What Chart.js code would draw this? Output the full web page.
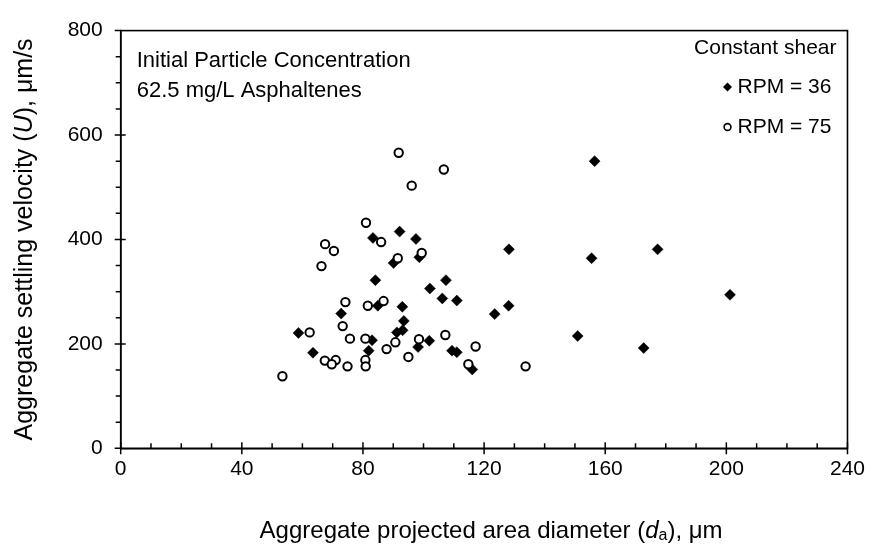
<!DOCTYPE html>
<html>
<head>
<meta charset="utf-8">
<script src="https://cdn.jsdelivr.net/npm/chart.js@4.4.1/dist/chart.umd.min.js"></script>
<style>
  html, body { margin: 0; padding: 0; background: #fff; }
  #wrap { width: 873px; height: 552px; position: relative; }
</style>
</head>
<body>
<div id="wrap"><canvas id="c"></canvas></div>
<script>
// ---- Data ----
const rpm36X = [156.5,128.2,177.3,155.5,128.1,150.9,172.7,201.2,92.1,83.3,97.5,90.1,98.6,84.1,107.4,102.1,106.2,111.0,84.9,93.0,72.8,93.5,123.5,58.7,91.2,93.1,83.0,101.9,98.2,81.9,63.5,109.4,111.0,116.1];
const rpm36Y = [550,381,381,364,273,215,192,294,415,403,401,355,366,322,322,306,287,283,273,271,258,244,257,221,222,226,207,206,194,187,183,187,184,151];
const rpm75X = [91.8,106.7,96.1,81.0,86.0,67.5,70.4,66.3,91.5,99.4,74.2,81.6,86.8,73.3,62.4,75.7,80.8,90.7,98.5,107.2,117.2,87.8,67.4,71.0,69.7,74.9,80.8,80.9,95.0,114.8,133.7,53.4];
const rpm75Y = [566,534,503,432,395,391,378,349,364,374,280,273,282,234,222,210,210,203,209,217,195,190,168,169,161,157,169,157,175,161,157,138];
const xTicks = [0,40,80,120,160,200,240];
const yTicks = [0,200,400,600,800];
const seriesLabels = ['RPM = 36','RPM = 75'];
const legendTitle = 'Constant shear';
const noteLines = ['Initial Particle Concentration','62.5 mg/L Asphaltenes'];

const FONT = '"Liberation Sans", Arial, sans-serif';

function toPts(xs, ys){ return xs.map((x,i)=>({x:x, y:ys[i]})); }

const decorPlugin = {
  id: 'decor',
  afterDraw(chart){
    const ctx = chart.ctx;
    const a = chart.chartArea;
    const xs = chart.scales.x, ys = chart.scales.y;
    ctx.save();
    ctx.strokeStyle = '#000';
    ctx.lineWidth = 1.6;
    ctx.strokeRect(a.left, a.top, a.right - a.left, a.bottom - a.top);
    ctx.lineWidth = 1.5;
    ctx.beginPath();
    for (let v = 0; v <= 240; v += 10) {
      const px = xs.getPixelForValue(v);
      if (v % 40 === 0) { ctx.moveTo(px, a.bottom - 6); ctx.lineTo(px, a.bottom + 6); }
      else { ctx.moveTo(px, a.bottom - 5); ctx.lineTo(px, a.bottom); }
    }
    for (let v = 0; v <= 800; v += 50) {
      const py = ys.getPixelForValue(v);
      if (v % 200 === 0) { ctx.moveTo(a.left - 6, py); ctx.lineTo(a.left + (v===0||v===800?0:5), py); }
      else { ctx.moveTo(a.left - 5, py); ctx.lineTo(a.left, py); }
    }
    ctx.stroke();

    // notes
    ctx.fillStyle = '#000';
    ctx.textBaseline = 'middle';
    ctx.textAlign = 'left';
    ctx.font = '22px ' + FONT;
    ctx.fillText(noteLines[0], a.left + 16, 61);
    ctx.fillText(noteLines[1], a.left + 16, 91);

    // legend
    ctx.textAlign = 'right';
    ctx.font = '21px ' + FONT;
    ctx.fillText(legendTitle, a.right - 11, 48);
    const tx = a.right - 16;
    const w1 = ctx.measureText(seriesLabels[0]).width;
    ctx.fillText(seriesLabels[0], tx, 87);
    ctx.fillText(seriesLabels[1], tx, 127);
    const mx = tx - w1 - 10;
    ctx.beginPath();
    ctx.moveTo(mx - 4.5, 87); ctx.lineTo(mx, 82.5); ctx.lineTo(mx + 4.5, 87); ctx.lineTo(mx, 91.5); ctx.closePath();
    ctx.fill();
    ctx.beginPath();
    ctx.lineWidth = 1.6;
    ctx.arc(mx, 127, 3.4, 0, Math.PI * 2);
    ctx.stroke();

    function drawRich(parts, cx, cy){
      let total = 0;
      const widths = parts.map(p => { ctx.font = p.font; const w = ctx.measureText(p.t).width; total += w; return w; });
      let x = cx - total / 2;
      ctx.textAlign = 'left';
      parts.forEach((p, i) => {
        ctx.font = p.font;
        ctx.fillText(p.t, x, cy + (p.dy || 0));
        x += widths[i];
      });
    }
    ctx.textBaseline = 'middle';
    const regX = '24px ' + FONT, itaX = 'italic 24px ' + FONT, subX = '16px ' + FONT;
    drawRich([
      {t:'Aggregate projected area diameter (', font:regX},
      {t:'d', font:itaX},
      {t:'a', font:subX, dy:5},
      {t:'), \u03bcm', font:regX}
    ], (a.left + a.right)/2 + 7, 531);
    const regY = '25px ' + FONT, itaY = 'italic 25px ' + FONT;
    ctx.save();
    ctx.translate(25, (a.top + a.bottom)/2);
    ctx.rotate(-Math.PI/2);
    drawRich([
      {t:'Aggregate settling velocity (', font:regY},
      {t:'U', font:itaY},
      {t:'), \u03bcm/s', font:regY}
    ], 0, 0);
    ctx.restore();
    ctx.restore();
  }
};

new Chart(document.getElementById('c'), {
  type: 'scatter',
  data: {
    datasets: [
      {
        label: seriesLabels[1],
        data: toPts(rpm75X, rpm75Y),
        pointStyle: 'circle',
        pointRadius: 4.2,
        pointBorderWidth: 2,
        borderColor: '#000',
        backgroundColor: '#fff',
        pointBackgroundColor: '#fff',
        pointBorderColor: '#000'
      },
      {
        label: seriesLabels[0],
        data: toPts(rpm36X, rpm36Y),
        pointStyle: 'rectRot',
        pointRadius: 5.5,
        pointBorderWidth: 0.5,
        borderColor: '#000',
        backgroundColor: '#000',
        pointBackgroundColor: '#000',
        pointBorderColor: '#000'
      }
    ]
  },
  options: {
    responsive: true,
    maintainAspectRatio: false,
    animation: false,
    layout: { padding: { left: 0, right: 21, top: 24, bottom: 0 } },
    plugins: { legend: { display: false }, tooltip: { enabled: false } },
    scales: {
      x: {
        type: 'linear', min: 0, max: 240,
        afterFit(s){ s.height = 103.7; },
        afterBuildTicks(s){ s.ticks = xTicks.map(v => ({value: v})); },
        ticks: { color: '#000', font: { family: FONT, size: 21 }, padding: 8, maxRotation: 0, autoSkip: false },
        grid: { display: false, drawTicks: false },
        border: { display: true, color: '#000', width: 1.6 },
        title: { display: false }
      },
      y: {
        type: 'linear', min: 0, max: 800,
        afterFit(s){ s.width = 120.7; },
        afterBuildTicks(s){ s.ticks = yTicks.map(v => ({value: v})); },
        ticks: { color: '#000', font: { family: FONT, size: 21 }, padding: 18, autoSkip: false },
        grid: { display: false, drawTicks: false },
        border: { display: true, color: '#000', width: 1.6 },
        title: { display: false }
      }
    }
  },
  plugins: [decorPlugin]
});
</script>
</body>
</html>
